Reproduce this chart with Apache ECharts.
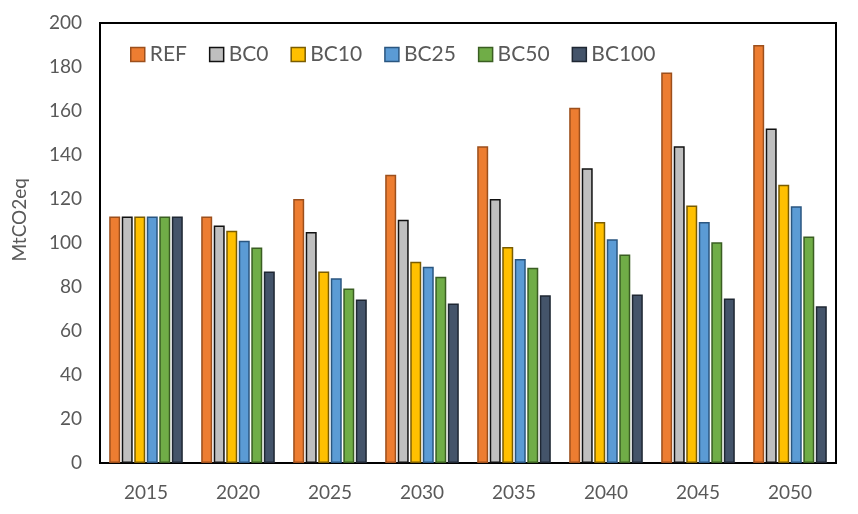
<!DOCTYPE html>
<html><head><meta charset="utf-8">
<script src="https://cdn.jsdelivr.net/npm/echarts@6/dist/echarts.min.js"></script>
<style>html,body{margin:0;padding:0;background:#fff}#c{width:858px;height:514px}</style>
</head><body><div id="c"></div>
<script>
const categories = ['2015','2020','2025','2030','2035','2040','2045','2050'];
const REF   = [112, 112, 120, 131, 144, 161.5, 177.5, 190];
const BC0   = [112, 108, 105, 110.6, 120, 134, 144, 152];
const BC10  = [112, 105.6, 87, 91.5, 98.2, 109.5, 117, 126.5];
const BC25  = [112, 101, 84, 89.2, 92.7, 101.7, 109.5, 116.7];
const BC50  = [112, 98, 79.3, 84.7, 88.8, 94.8, 100.3, 103];
const BC100 = [112, 87, 74.3, 72.5, 76.2, 76.6, 74.8, 71.2];
const yTicks = [0,20,40,60,80,100,120,140,160,180,200];

const seriesDefs = [
  ['REF', REF, '#ED7D31', '#9C4F1C'],
  ['BC0', BC0, '#BFBFBF', '#111111'],
  ['BC10', BC10, '#FFC000', '#7A5C00'],
  ['BC25', BC25, '#5B9BD5', '#2A5680'],
  ['BC50', BC50, '#70AD47', '#3A5E22'],
  ['BC100', BC100, '#44546A', '#1F2733']
];
const font = 'Lato, "Open Sans", sans-serif';
const chart = echarts.init(document.getElementById('c'), null, {renderer:'canvas'});
chart.setOption({
  animation:false,
  backgroundColor:'#fff',
  grid:{left:100, right:22, top:23, bottom:51, show:true, borderColor:'#000', borderWidth:2, backgroundColor:'transparent'},
  legend:{
    left:125, top:39, itemWidth:14, itemHeight:14, itemGap:22,
    textStyle:{fontSize:21, color:'#595959', fontFamily:font},
    data: seriesDefs.map(s=>({name:s[0], icon:'rect', itemStyle:{color:s[2], borderColor:s[3], borderWidth:1.5}}))
  },
  xAxis:{
    type:'category', data:categories,
    axisLine:{lineStyle:{color:'#000', width:2}},
    axisTick:{show:false},
    axisLabel:{fontSize:19, color:'#595959', fontFamily:font, margin:20}
  },
  yAxis:{
    type:'value', min:yTicks[0], max:yTicks[yTicks.length-1], interval:20,
    axisLine:{show:true, lineStyle:{color:'#000', width:2}},
    axisTick:{show:false},
    splitLine:{show:false},
    axisLabel:{fontSize:19, color:'#595959', fontFamily:font, margin:18}
  },
  graphic:[{
    type:'text', left:10, top:178, rotation:Math.PI/2,
    style:{text:'MtCO2eq', fontSize:19, fill:'#595959', fontFamily:font}
  }],
  series: seriesDefs.map(s=>({
    name:s[0], type:'bar', data:s[1],
    barGap:'14%', barCategoryGap:'20%',
    itemStyle:{color:s[2], borderColor:s[3], borderWidth:1.5}
  }))
});
</script></body></html>
